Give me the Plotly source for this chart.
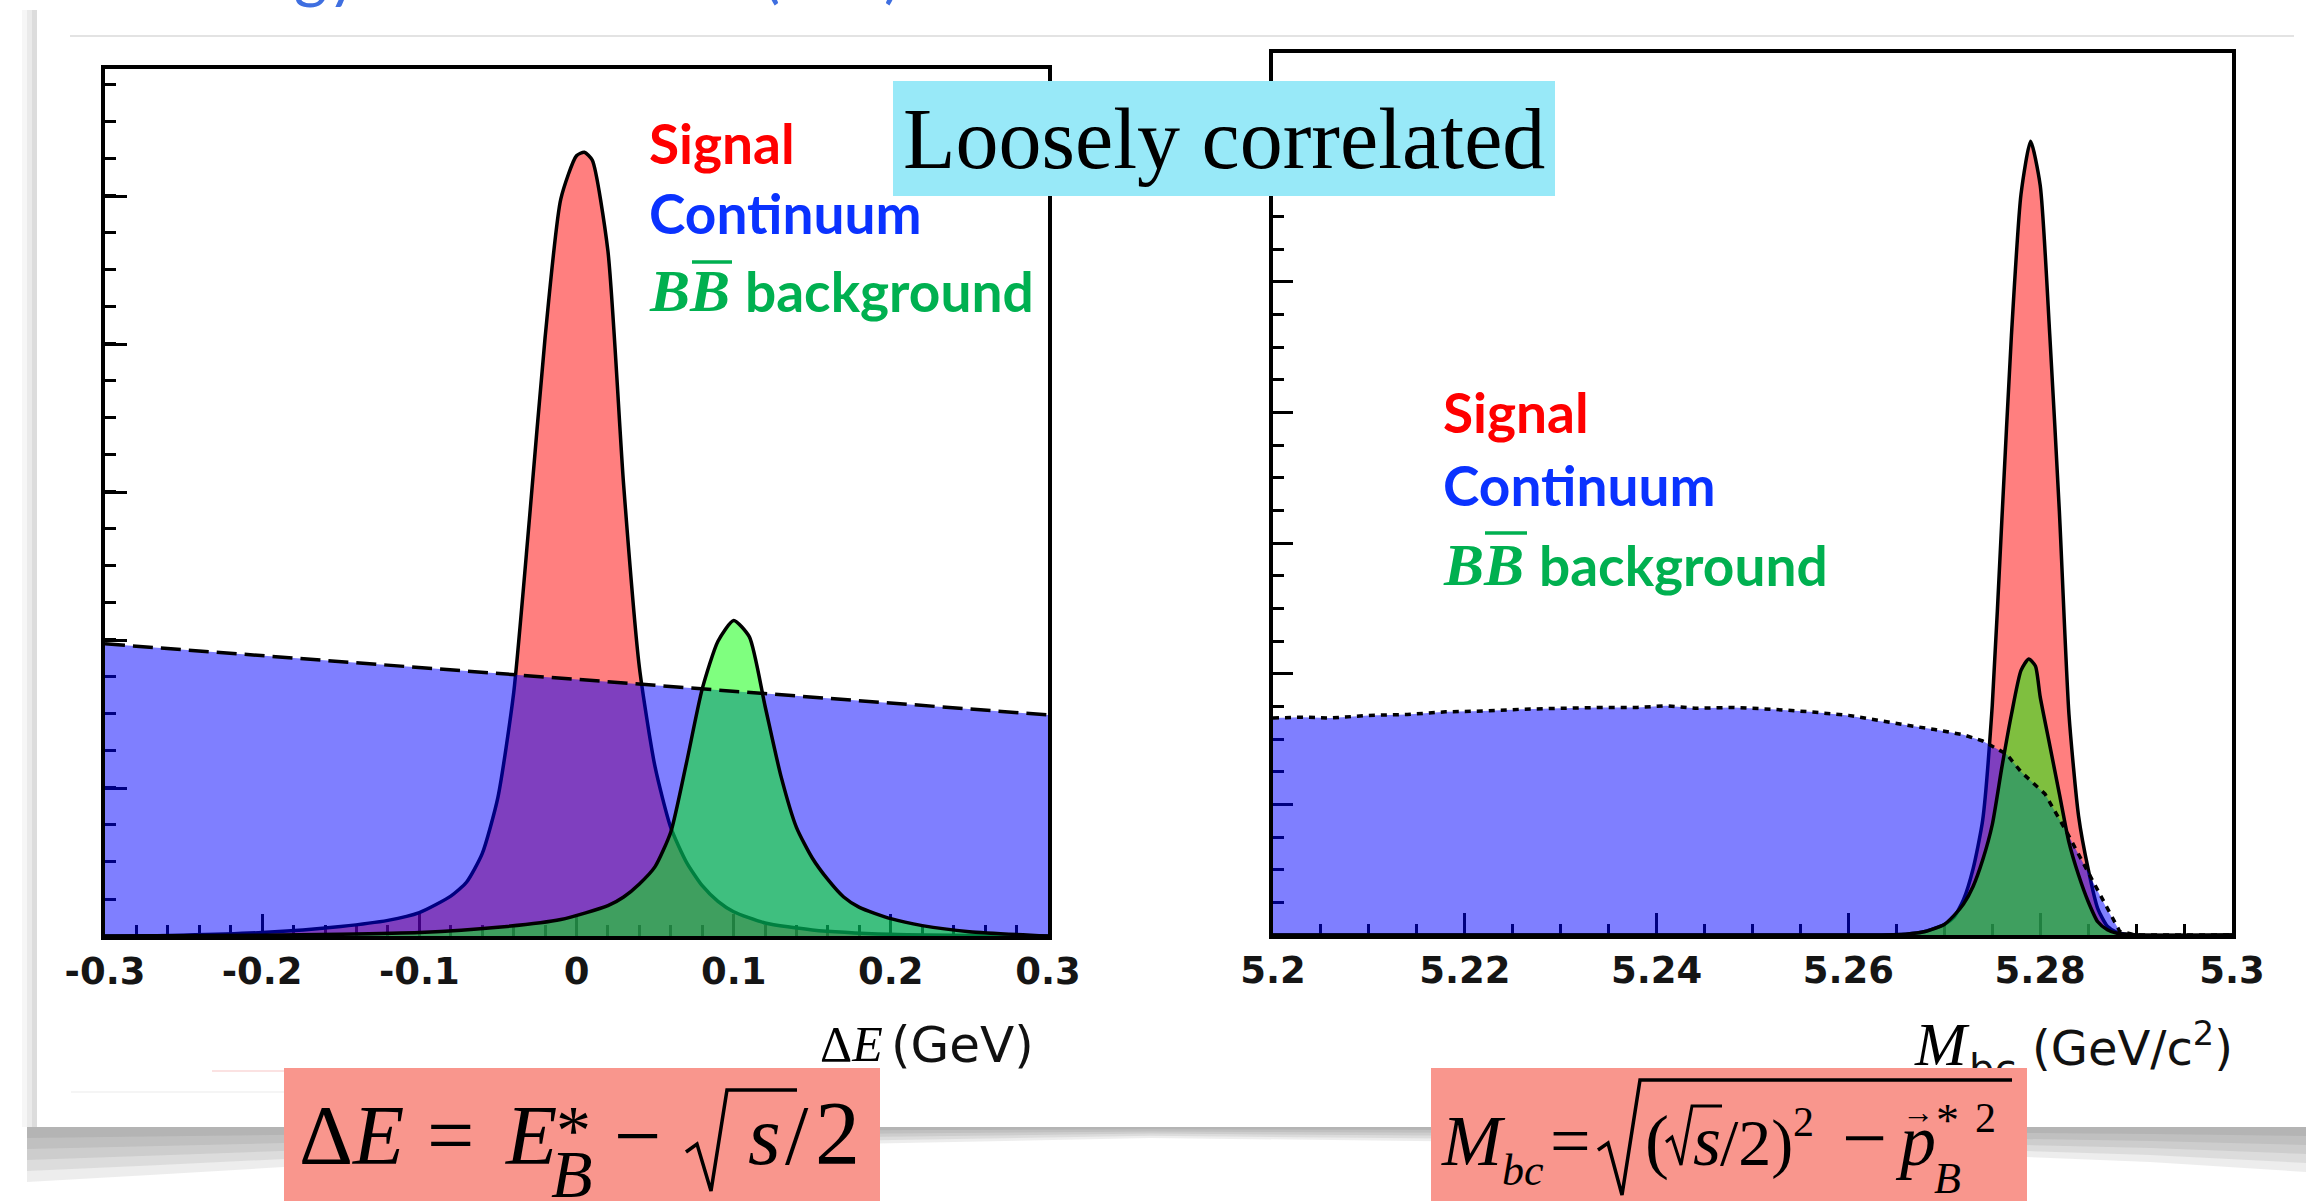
import plotly.graph_objects as go

W, H = 2306, 1201

# ---------------- data ----------------
# Left panel: Delta E (GeV), heights as fraction of frame height
sig_de_x = [-0.30, -0.25, -0.20, -0.15, -0.12, -0.10, -0.08, -0.07, -0.06, -0.05, -0.04, -0.03,
            -0.02, -0.01, 0.00, 0.005, 0.01, 0.02, 0.03, 0.04, 0.05, 0.06, 0.07, 0.08, 0.09,
            0.10, 0.12, 0.15, 0.20, 0.30]
sig_de_y = [0.0, 0.001, 0.004, 0.011, 0.018, 0.027, 0.046, 0.062, 0.095, 0.16, 0.28, 0.48,
            0.69, 0.85, 0.90, 0.904, 0.895, 0.79, 0.52, 0.31, 0.195, 0.125, 0.085, 0.058, 0.040,
            0.028, 0.015, 0.007, 0.002, 0.0]

cont_de_x = [-0.30, 0.00, 0.30]
cont_de_y = [0.337, 0.296, 0.255]

bb_de_x = [-0.30, -0.20, -0.15, -0.10, -0.05, -0.01, 0.02, 0.03, 0.04, 0.05, 0.06, 0.07, 0.08,
           0.09, 0.10, 0.11, 0.12, 0.13, 0.14, 0.15, 0.16, 0.17, 0.18, 0.20, 0.22, 0.25, 0.30]
bb_de_y = [0.0, 0.001, 0.002, 0.004, 0.010, 0.019, 0.035, 0.045, 0.060, 0.080, 0.12, 0.20, 0.285,
           0.34, 0.364, 0.345, 0.265, 0.185, 0.125, 0.090, 0.065, 0.045, 0.033, 0.020, 0.012,
           0.005, 0.0]

# Right panel: Mbc (GeV/c^2)
sig_mbc_x = [5.200, 5.262, 5.266, 5.268, 5.270, 5.271, 5.272, 5.273, 5.274, 5.275, 5.276, 5.277,
             5.278, 5.279, 5.280, 5.281, 5.282, 5.283, 5.284, 5.285, 5.286, 5.287, 5.288, 5.290,
             5.300]
sig_mbc_y = [0.0, 0.0, 0.001, 0.004, 0.012, 0.020, 0.040, 0.075, 0.13, 0.26, 0.47, 0.68,
             0.84, 0.90, 0.85, 0.68, 0.48, 0.25, 0.135, 0.075, 0.030, 0.010, 0.003, 0.0, 0.0]

cont_mbc_x = [5.200, 5.203, 5.206, 5.210, 5.214, 5.218, 5.222, 5.226, 5.230, 5.234, 5.238, 5.241,
              5.244, 5.248, 5.252, 5.256, 5.260, 5.263, 5.266, 5.269, 5.272, 5.274, 5.2765,
              5.278, 5.2805, 5.2828, 5.285, 5.2868, 5.2883, 5.290, 5.300]
cont_mbc_y = [0.246, 0.247, 0.246, 0.249, 0.250, 0.253, 0.254, 0.256, 0.257, 0.258, 0.258, 0.260,
              0.257, 0.258, 0.256, 0.253, 0.249, 0.243, 0.238, 0.233, 0.227, 0.220, 0.205,
              0.185, 0.160, 0.116, 0.071, 0.033, 0.004, 0.0, 0.0]

bb_mbc_x = [5.200, 5.262, 5.266, 5.268, 5.270, 5.271, 5.272, 5.273, 5.274, 5.275, 5.276, 5.277,
            5.278, 5.2788, 5.2795, 5.280, 5.281, 5.282, 5.283, 5.284, 5.285, 5.286, 5.287, 5.288,
            5.290, 5.300]
bb_mbc_y = [0.0, 0.0, 0.001, 0.004, 0.012, 0.022, 0.035, 0.055, 0.085, 0.125, 0.19, 0.25,
            0.30, 0.313, 0.305, 0.27, 0.215, 0.16, 0.105, 0.068, 0.038, 0.015, 0.006, 0.002,
            0.0, 0.0]

de_tickvals = [-0.3, -0.2, -0.1, 0.0, 0.1, 0.2, 0.3]
de_ticktext = ["-0.3", "-0.2", "-0.1", "0", "0.1", "0.2", "0.3"]
mbc_tickvals = [5.20, 5.22, 5.24, 5.26, 5.28, 5.30]
mbc_ticktext = ["5.2", "5.22", "5.24", "5.26", "5.28", "5.3"]

legend_labels = ["Signal", "Continuum", "background"]
legend_colors = ["#FF0000", "#0A32FF", "#00B050"]

# ---------------- helpers ----------------
def X(p):
    return p / W

def Y(p):
    return 1 - p / H

RED = "rgba(255,0,0,0.5)"
BLUE = "rgba(0,0,255,0.5)"
GREEN = "rgba(0,255,0,0.5)"

fig = go.Figure()

def add_panel(xa, ya, sx, sy, cx, cy, bx, by, dash, cont_shape):
    fig.add_trace(go.Scatter(x=sx, y=sy, mode="lines", fill="tozeroy", fillcolor=RED,
                             line=dict(color="black", width=3.5, shape="spline", smoothing=0.6),
                             xaxis=xa, yaxis=ya, hoverinfo="skip", showlegend=False))
    fig.add_trace(go.Scatter(x=cx, y=cy, mode="lines", fill="tozeroy", fillcolor=BLUE,
                             line=dict(color="rgba(0,0,0,0)", width=0, shape=cont_shape),
                             xaxis=xa, yaxis=ya, hoverinfo="skip", showlegend=False))
    fig.add_trace(go.Scatter(x=bx, y=by, mode="lines", fill="tozeroy", fillcolor=GREEN,
                             line=dict(color="black", width=3.5, shape="spline", smoothing=0.6),
                             xaxis=xa, yaxis=ya, hoverinfo="skip", showlegend=False))
    fig.add_trace(go.Scatter(x=cx, y=cy, mode="lines",
                             line=dict(color="black", width=3.5, dash=dash, shape=cont_shape),
                             xaxis=xa, yaxis=ya, hoverinfo="skip", showlegend=False))

add_panel("x", "y", sig_de_x, sig_de_y, cont_de_x, cont_de_y, bb_de_x, bb_de_y, "20px,8px", "linear")
add_panel("x2", "y2", sig_mbc_x, sig_mbc_y, cont_mbc_x, cont_mbc_y, bb_mbc_x, bb_mbc_y, "6px,6px", "linear")

tickfont = dict(family="DejaVu Sans", size=37, color="#151515", weight="bold")

def xaxis_cfg(dom, rng, tv, tt, mdt, anchor):
    return dict(domain=[X(dom[0]), X(dom[1])], range=rng, showline=True, mirror=True,
                linecolor="black", linewidth=4, ticks="inside", ticklen=22, tickwidth=3,
                tickcolor="black", tickmode="array", tickvals=tv, ticktext=tt,
                tickfont=tickfont, showgrid=False, zeroline=False, layer="below traces",
                automargin=False, anchor=anchor,
                minor=dict(ticks="inside", ticklen=11, tickwidth=3, tickcolor="black",
                           tickmode="linear", tick0=rng[0], dtick=mdt, showgrid=False))

def yaxis_cfg(dom, dt, mdt, tl, anchor):
    return dict(domain=[Y(dom[1]), Y(dom[0])], range=[0, 1], showline=True, mirror=True,
                linecolor="black", linewidth=4, ticks="inside", ticklen=tl, tickwidth=3,
                tickcolor="black", tickmode="linear", tick0=0, dtick=dt,
                showticklabels=False, showgrid=False, zeroline=False, layer="below traces",
                automargin=False, anchor=anchor,
                minor=dict(ticks="inside", ticklen=11, tickwidth=3, tickcolor="black",
                           tickmode="linear", tick0=0, dtick=mdt, showgrid=False))

shapes = []
# card shadows (left edge)
for x0, op in [(22, 0.06), (27, 0.08), (32, 0.10)]:
    shapes.append(dict(type="rect", xref="paper", yref="paper", x0=X(x0), x1=X(37),
                       y0=Y(1127), y1=Y(10), fillcolor="#606060", opacity=op,
                       line=dict(width=0), layer="below"))
# bottom shadow (lifted corners)
depth = [(27, 55), (150, 48), (400, 33), (800, 18), (1150, 11), (1500, 15), (1900, 25),
         (2150, 35), (2306, 45)]
for k in range(1, 6):
    f = k / 5
    pts = [(27, 1127)] + [(x, 1127 + d * f) for x, d in depth] + [(2306, 1127)]
    path = "M " + " L ".join(f"{X(x):.5f},{Y(y):.5f}" for x, y in pts) + " Z"
    shapes.append(dict(type="path", xref="paper", yref="paper", path=path,
                       fillcolor="#4a4a4a", opacity=0.10, line=dict(width=0), layer="below"))
# faint slide lines
shapes.append(dict(type="line", xref="paper", yref="paper", x0=X(70), x1=X(2294), y0=Y(36), y1=Y(36),
                   line=dict(color="#E3E3E3", width=2), layer="below"))
shapes.append(dict(type="line", xref="paper", yref="paper", x0=X(212), x1=X(284), y0=Y(1071), y1=Y(1071),
                   line=dict(color="#FBE2E2", width=2), layer="below"))
shapes.append(dict(type="line", xref="paper", yref="paper", x0=X(71), x1=X(284), y0=Y(1092), y1=Y(1092),
                   line=dict(color="#F2F2F2", width=1.5), layer="below"))

# boxes
shapes.append(dict(type="rect", xref="paper", yref="paper", x0=X(893), x1=X(1555), y0=Y(196), y1=Y(81),
                   fillcolor="#98E9F8", line=dict(width=0), layer="above"))
shapes.append(dict(type="rect", xref="paper", yref="paper", x0=X(284), x1=X(880), y0=Y(1215), y1=Y(1068),
                   fillcolor="#F9968D", line=dict(width=0), layer="above"))
shapes.append(dict(type="rect", xref="paper", yref="paper", x0=X(1431), x1=X(2027), y0=Y(1215), y1=Y(1068),
                   fillcolor="#F9968D", line=dict(width=0), layer="above"))

def poly(pts, w):
    path = "M " + " L ".join(f"{X(x):.5f},{Y(y):.5f}" for x, y in pts)
    return dict(type="path", xref="paper", yref="paper", path=path,
                line=dict(color="black", width=w), layer="above")

# radicals
shapes.append(poly([(686, 1152), (697, 1144), (711, 1191), (727, 1090), (797, 1090)], 3.5))
shapes.append(poly([(1598, 1150), (1608, 1143), (1622, 1195), (1640, 1080), (2012, 1080)], 3.5))
shapes.append(poly([(1666, 1142), (1672, 1137), (1681, 1165), (1692, 1106), (1722, 1106)], 3))

# overbars in legends
shapes.append(dict(type="line", xref="paper", yref="paper", x0=X(692), x1=X(732), y0=Y(262), y1=Y(262),
                   line=dict(color="#00B050", width=3.5), layer="above"))
shapes.append(dict(type="line", xref="paper", yref="paper", x0=X(1485), x1=X(1527), y0=Y(533), y1=Y(533),
                   line=dict(color="#00B050", width=3.5), layer="above"))

ann = []

def T(text, x, y, size, family="Liberation Serif", color="black", xanchor="left", yanchor="middle", **kw):
    d = dict(text=text, x=X(x), y=Y(y), xref="paper", yref="paper", showarrow=False,
             xanchor=xanchor, yanchor=yanchor, borderpad=0, borderwidth=0,
             font=dict(family=family, size=size, color=color))
    d.update(kw)
    ann.append(d)

# title fragments cut at top of slide
TB = "#3F6FE0"
T("gy", 294, 10, 64, family="Lato", color=TB, yanchor="bottom")
T("(", 763, 10, 64, family="Lato", color=TB, yanchor="bottom")
T(")", 884, 10, 64, family="Lato", color=TB, yanchor="bottom")

# legends
for (lx, ys) in [(649, (143, 213, 291)), (1443, (412, 485, 565))]:
    T("<b>" + legend_labels[0] + "</b>", lx, ys[0], 55, family="Lato", color=legend_colors[0])
    T("<b>" + legend_labels[1] + "</b>", lx, ys[1], 55, family="Lato", color=legend_colors[1])
    T("<b><i>BB</i></b>", lx, ys[2], 60, family="Liberation Serif", color=legend_colors[2])
    T("<b>" + legend_labels[2] + "</b>", lx + 96, ys[2], 55, family="Lato", color=legend_colors[2])

# axis titles
T("Δ<i>E</i>", 883, 1044, 50, xanchor="right")
T("(GeV)", 891, 1045, 50, family="DejaVu Sans", color="#111111")
T("<i>M</i>", 1914, 1044, 62)
T("bc", 1969, 1046, 40, family="DejaVu Sans", color="#111111", yanchor="top", height=22, valign="top")
T("(GeV/c<sup>2</sup>)", 2032, 1045, 48, family="DejaVu Sans", color="#111111")

# "Loosely correlated"
T("Loosely correlated", 1224, 139, 86, xanchor="center")

# left formula
T("Δ<i>E</i>", 299, 1135, 84)
T("=", 450, 1135, 84, xanchor="center")
T("<i>E</i>", 505, 1135, 84)
T("*", 556, 1130, 70)
T("<i>B</i>", 551, 1174, 68)
T("−", 637, 1135, 84, xanchor="center")
T("<i>s</i>", 748, 1135, 84)
T("/", 785, 1135, 84)
T("2", 815, 1133, 90)

# right formula
T("<i>M</i>", 1441, 1141, 72)
T("<i>bc</i>", 1502, 1170, 44)
T("=", 1570, 1141, 72, xanchor="center")
T("(", 1645, 1141, 72)
T("<i>s</i>", 1693, 1141, 72)
T("/2)", 1720, 1143, 66)
T("2", 1793, 1122, 42)
T("−", 1864, 1138, 80, xanchor="center")
T("<i>p</i>", 1895, 1141, 72)
T("→", 1918, 1112, 32, xanchor="center")
T("*", 1936, 1120, 46)
T("2", 1975, 1118, 42)
T("<i>B</i>", 1934, 1178, 44)

fig.update_layout(
    template="none",
    width=W, height=H, autosize=False,
    margin=dict(l=0, r=0, t=0, b=0, pad=0),
    paper_bgcolor="white", plot_bgcolor="white",
    showlegend=False,
    xaxis=xaxis_cfg((105, 1048), [-0.3, 0.3], de_tickvals, de_ticktext, 0.02, "y"),
    yaxis=yaxis_cfg((69, 936), 0.1707, 0.04268, 22, "x"),
    xaxis2=xaxis_cfg((1273, 2232), [5.2, 5.3], mbc_tickvals, mbc_ticktext, 0.005, "y2"),
    yaxis2=yaxis_cfg((53, 935), 0.1481, 0.03703, 20, "x2"),
    shapes=shapes,
    annotations=ann,
)

fig.write_html("out.html")
